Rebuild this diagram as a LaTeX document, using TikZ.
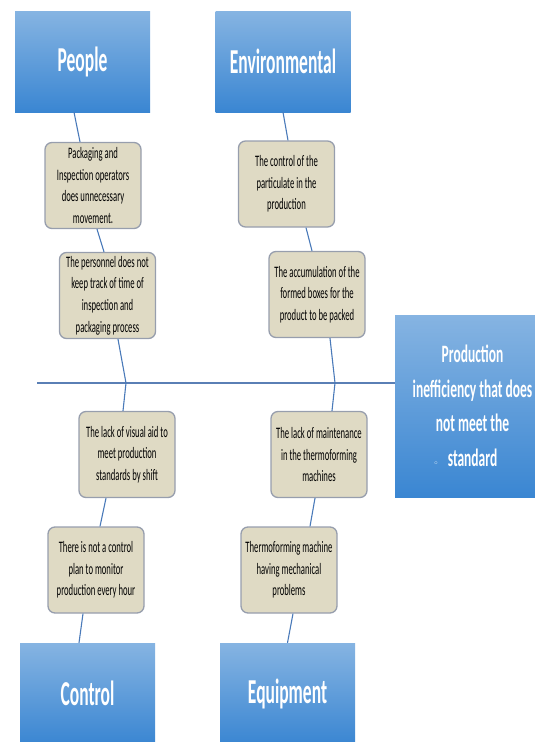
\documentclass[tikz,border=0pt]{standalone}
\usepackage{fontspec}
\setmainfont{Carlito}[FakeStretch=0.54]
\newfontfamily\headfont{Carlito}[FakeStretch=0.5]
\newfontfamily\effectfont{Carlito}[FakeStretch=0.54]
\newfontfamily\symfont{DejaVu Sans}
\usetikzlibrary{positioning}

\definecolor{catTop}{HTML}{86B4E2}
\definecolor{catBottom}{HTML}{3A86D2}
\definecolor{causeFill}{HTML}{DFDAC4}
\definecolor{causeLine}{HTML}{979EAD}
\definecolor{boneLine}{HTML}{4A7AB9}
\definecolor{spineLine}{HTML}{5A7FB5}

\begin{document}
\begin{tikzpicture}[x=1pt, y=-1pt,
    category/.style={rectangle, top color=catTop, bottom color=catBottom, draw=none, inner sep=0pt, minimum width=135pt, minimum height=101pt, text=white, font=\headfont\bfseries\fontsize{35}{40}\selectfont},
    effect/.style={rectangle, top color=catTop, bottom color=catBottom, draw=none, inner sep=0pt, minimum width=155pt, minimum height=182pt, text=white, align=center, font=\effectfont\bfseries\fontsize{25}{34.5}\selectfont},
    cause/.style={rectangle, rounded corners=7pt, fill=causeFill, draw=causeLine, line width=1.3pt, inner sep=0pt, minimum width=96pt, minimum height=86pt, align=center, text=black, font=\fontsize{16}{21.7}\selectfont},
    bone/.style={draw=boneLine, line width=1.1pt},
    spine/.style={draw=spineLine, line width=2.8pt}]
    \useasboundingbox (0,0) rectangle (535,742);

    % categories and effect
    \node (people) [category] at (82.5,61.5) {People};
    \node (environ) [category] at (283,61.5) {Environmental};
    \node (control) [category] at (87.5,693.5) {Control};
    \node (equip) [category] at (287.5,693.5) {Equipment};
    \node (effect) [effect] at (472.5,406) {Production\\inefficiency that does\\not meet the\\\llap{{\symfont\mdseries\fontsize{9}{9}\selectfont ◦}\hspace{9pt}}standard};

    % causes
    \node (people1) [cause] at (93,185.5) {Packaging and\\Inspection operators\\does unnecessary\\movement.};
    \node (people2) [cause] at (107.5,295.5) {The personnel does not\\keep track of time of\\inspection and\\packaging process};
    \node (control1) [cause] at (127,454.5) {The lack of visual aid to\\meet production\\standards by shift};
    \node (control2) [cause] at (96,570) {There is not a control\\plan to monitor\\production every hour};
    \node (environ1) [cause] at (286.5,184) {The control of the\\particulate in the\\production};
    \node (environ2) [cause] at (317,294.5) {The accumulation of the\\formed boxes for the\\product to be packed};
    \node (equip1) [cause] at (319,454.5) {The lack of maintenance\\in the thermoforming\\machines};
    \node (equip2) [cause] at (289,570) {Thermoforming machine\\having mechanical\\problems};

    % spine
    \coordinate (tail) at (37,383);
    \coordinate (joint1) at (126,383);
    \coordinate (joint2) at (335,383);
    \draw[spine] (tail) -- (tail -| effect.west);

    % bones
    \draw[bone] ([xshift=-8.5pt]people.south) -- ([xshift=-13pt]people1.north);
    \draw[bone] ([xshift=4pt]people1.south) -- ([xshift=-3.5pt]people2.north);
    \draw[bone] ([xshift=10.5pt]people2.south) -- (joint1) -- ([xshift=-4pt]control1.north);
    \draw[bone] ([xshift=-21pt]control1.south) -- ([xshift=4pt]control2.north);
    \draw[bone] ([xshift=-13pt]control2.south) -- ([xshift=-8.5pt]control.north);
    \draw[bone] (environ.south) -- ([xshift=1.5pt]environ1.north);
    \draw[bone] ([xshift=19.5pt]environ1.south) -- ([xshift=-5pt]environ2.north);
    \draw[bone] ([xshift=13pt]environ2.south) -- (joint2) -- ([xshift=13pt]equip1.north);
    \draw[bone] ([xshift=-4pt]equip1.south) -- ([xshift=21pt]equip2.north);
    \draw[bone] ([xshift=4pt]equip2.south) -- (equip.north);
\end{tikzpicture}
\end{document}
